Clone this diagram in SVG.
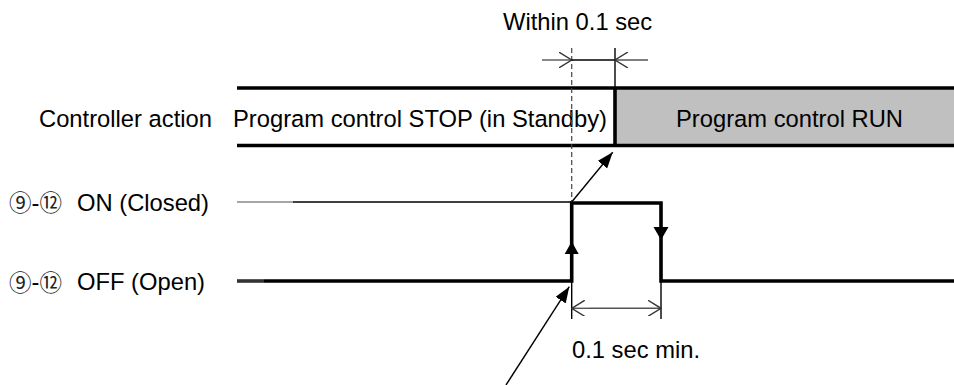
<svg xmlns="http://www.w3.org/2000/svg" width="954" height="385" viewBox="0 0 954 385">
<style>
  .t { font-family: "Liberation Sans", Arial, sans-serif; font-size: 23.75px; fill: #000; }
  .c { font-family: "Noto Sans CJK JP", "DejaVu Sans", sans-serif; font-size: 22.5px; fill: #222; }
  .thick { stroke: #000; stroke-width: 3.6; fill: none; }
  .thin { stroke: #000; stroke-width: 1.4; fill: none; }
  .dim { stroke: #555; stroke-width: 1.4; fill: none; }
</style>
<defs>
  <marker id="open" viewBox="0 0 14 16" refX="13" refY="8" markerWidth="14" markerHeight="16" markerUnits="userSpaceOnUse" orient="auto">
    <path d="M0,0 L13,8 L0,16" fill="none" stroke="#333" stroke-width="1.4"/>
  </marker>
  <marker id="solid" viewBox="0 0 16 12" refX="16" refY="6" markerWidth="16" markerHeight="12" markerUnits="userSpaceOnUse" orient="auto">
    <path d="M0,0 L16,6 L0,12 z" fill="#000"/>
  </marker>
</defs>

<g id="controller-action">
  <rect x="615" y="88" width="339" height="58" fill="#c0c0c0"/>
  <line class="thick" x1="237" y1="88" x2="954" y2="88"/>
  <line class="thick" x1="237" y1="145.5" x2="954" y2="145.5"/>
  <line class="thick" x1="615" y1="88" x2="615" y2="146"/>
  <text class="t" x="39" y="127">Controller action</text>
  <text class="t" x="233" y="127">Program control STOP (in Standby)</text>
  <text class="t" x="676" y="127">Program control RUN</text>
</g>

<g id="on-label">
  <text class="t" x="9" y="210.5"><tspan class="c" dy="0.5">⑨</tspan><tspan dy="-0.5">-</tspan><tspan class="c" dy="0.5">⑫</tspan><tspan x="77" dy="-0.5">ON (Closed)</tspan></text>
</g>

<g id="off-label">
  <text class="t" x="9" y="290"><tspan class="c" dy="0.5">⑨</tspan><tspan dy="-0.5">-</tspan><tspan class="c" dy="0.5">⑫</tspan><tspan x="77" dy="-0.5">OFF (Open)</tspan></text>
</g>

<g id="signal">
  <line x1="237" y1="202" x2="293" y2="202" stroke="#888" stroke-width="1.6"/>
  <line class="thin" x1="293" y1="202" x2="572" y2="202"/>
  <line x1="237" y1="281" x2="264" y2="281" stroke="#333" stroke-width="3.6"/>
  <polyline class="thick" points="264,281 571.7,281 571.7,203 661,203 661,281 954,281"/>
  <path d="M571.7,241.5 L578.7,254 L564.7,254 z" fill="#000"/>
  <path d="M661,240 L668.5,227 L653.5,227 z" fill="#000"/>
</g>

<g id="within-label">
  <text class="t" x="503" y="30">Within 0.1 sec</text>
</g>

<g id="min-label">
  <text class="t" x="572" y="358">0.1 sec min.</text>
</g>

<g id="connectors">
  <line x1="571.7" y1="48" x2="571.7" y2="202" stroke="#444" stroke-width="1.2" stroke-dasharray="5,3"/>
  <line class="thin" x1="615" y1="48" x2="615" y2="88"/>
  <line class="dim" x1="542" y1="60" x2="571.7" y2="60" marker-end="url(#open)"/>
  <line class="thin" x1="571.7" y1="60" x2="615" y2="60"/>
  <line class="dim" x1="648" y1="60" x2="615" y2="60" marker-end="url(#open)"/>
  <line class="thin" x1="571.7" y1="202" x2="612.7" y2="152.3" marker-end="url(#solid)"/>
  <line class="thin" x1="506" y1="385" x2="569.3" y2="286.7" marker-end="url(#solid)"/>
  <line class="thin" x1="571.7" y1="281" x2="571.7" y2="319"/>
  <line class="thin" x1="661" y1="281" x2="661" y2="319"/>
  <line class="dim" x1="590" y1="308.3" x2="571.7" y2="308.3" marker-end="url(#open)"/>
  <line class="dim" x1="590" y1="308.3" x2="661" y2="308.3" marker-end="url(#open)"/>
</g>
</svg>
